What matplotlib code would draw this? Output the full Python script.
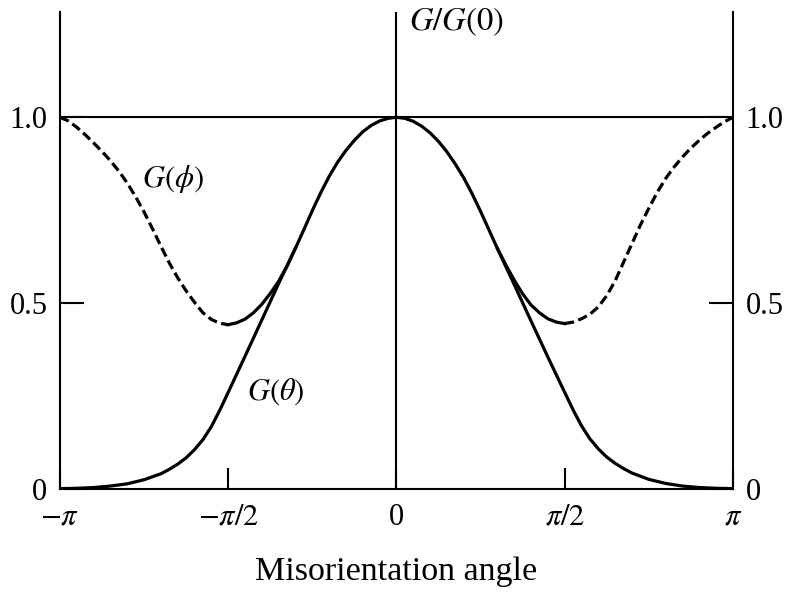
import matplotlib
matplotlib.use("Agg")
import matplotlib.pyplot as plt
import numpy as np

plt.rcParams["font.family"] = "Liberation Serif"
plt.rcParams["mathtext.fontset"] = "stix"

# misorientation angle, in units of pi
theta_frac = [-1.0, -0.95, -0.9, -0.85, -0.8, -0.75, -0.7, -0.675, -0.65, -0.625,
              -0.6, -0.575, -0.55, -0.525, -0.5, -0.45, -0.4, -0.35, -0.3, -0.275,
              -0.25, -0.225, -0.2, -0.175, -0.15, -0.125, -0.1, -0.075, -0.05, -0.025,
              0.0, 0.025, 0.05, 0.075, 0.1, 0.125, 0.15, 0.175, 0.2, 0.225,
              0.25, 0.275, 0.3, 0.35, 0.4, 0.45, 0.5, 0.525, 0.55, 0.575,
              0.6, 0.625, 0.65, 0.675, 0.7, 0.75, 0.8, 0.85, 0.9, 0.95, 1.0]
g_theta = [0.001, 0.002, 0.004, 0.008, 0.014, 0.025, 0.041, 0.053, 0.067, 0.084,
           0.106, 0.133, 0.168, 0.212, 0.26, 0.357, 0.455, 0.553, 0.648, 0.698,
           0.749, 0.797, 0.841, 0.879, 0.911, 0.938, 0.961, 0.978, 0.99, 0.997,
           1.0, 0.997, 0.989, 0.976, 0.958, 0.935, 0.907, 0.874, 0.837, 0.794,
           0.747, 0.697, 0.647, 0.55, 0.452, 0.355, 0.26, 0.213, 0.17, 0.135,
           0.108, 0.086, 0.069, 0.055, 0.043, 0.026, 0.015, 0.008, 0.004, 0.002, 0.001]

# G(phi): dashed outer part
phi_dash_left = [-1.0, -0.975, -0.95, -0.925, -0.9, -0.875, -0.85, -0.825, -0.8, -0.775,
                 -0.75, -0.725, -0.7, -0.675, -0.65, -0.625, -0.6, -0.575, -0.55, -0.525, -0.5]
g_phi_dash_left = [1.0, 0.99, 0.973, 0.953, 0.931, 0.908, 0.883, 0.855, 0.823, 0.786,
                   0.745, 0.7, 0.653, 0.608, 0.568, 0.533, 0.502, 0.474, 0.456, 0.446, 0.442]
phi_dash_right = [0.5, 0.525, 0.55, 0.575, 0.6, 0.625, 0.65, 0.675, 0.7, 0.725,
                  0.75, 0.775, 0.8, 0.825, 0.85, 0.875, 0.9, 0.925, 0.95, 0.975, 1.0]
g_phi_dash_right = [0.445, 0.449, 0.458, 0.47, 0.49, 0.52, 0.56, 0.61, 0.66, 0.71,
                    0.755, 0.798, 0.835, 0.866, 0.893, 0.917, 0.938, 0.957, 0.973, 0.988, 1.0]

# G(phi): solid inner part, running into G(theta)
phi_solid_left = [-0.5, -0.475, -0.45, -0.425, -0.4, -0.375, -0.35, -0.325, -0.3]
g_phi_solid_left = [0.442, 0.447, 0.457, 0.474, 0.497, 0.526, 0.559, 0.6, 0.648]
phi_solid_right = [0.5, 0.475, 0.45, 0.425, 0.4, 0.375, 0.35, 0.325, 0.3]
g_phi_solid_right = [0.445, 0.449, 0.458, 0.474, 0.495, 0.525, 0.562, 0.603, 0.647]

xticks = [-np.pi, -np.pi / 2, 0, np.pi / 2, np.pi]
xtick_labels = [r"$-\pi$", r"$-\pi/2$", "0", r"$\pi/2$", r"$\pi$"]
yticks = [0, 0.5, 1.0]
ytick_labels = ["0", "0.5", "1.0"]

fig = plt.figure(figsize=(7.88, 5.96), dpi=100)
ax = fig.add_axes([0.0761, 0.1795, 0.854, 0.8003])

lw_axis = 1.5
lw_curve = 2.3
dashes = (0, (3.0, 1.4))

ax.plot(np.array(theta_frac) * np.pi, g_theta, color="black", lw=lw_curve)
ax.plot(np.array(phi_dash_left) * np.pi, g_phi_dash_left, color="black",
        lw=lw_curve, ls=dashes)
ax.plot(np.array(phi_dash_right) * np.pi, g_phi_dash_right, color="black",
        lw=lw_curve, ls=dashes)
ax.plot(np.array(phi_solid_left) * np.pi, g_phi_solid_left, color="black", lw=lw_curve)
ax.plot(np.array(phi_solid_right) * np.pi, g_phi_solid_right, color="black", lw=lw_curve)

ax.axvline(0, color="black", lw=lw_axis)
ax.axhline(1.0, color="black", lw=lw_axis)

ax.set_xlim(-np.pi, np.pi)
ax.set_ylim(0, 1.283)
ax.spines["top"].set_visible(False)
for side in ["left", "right", "bottom"]:
    ax.spines[side].set_linewidth(lw_axis)

ax.set_xticks(xticks)
ax.set_xticklabels(xtick_labels)
ax.set_yticks(yticks)
ax.set_yticklabels(ytick_labels)
ax.yaxis.set_ticks_position("both")
ax.tick_params(axis="y", direction="in", length=17, width=lw_axis,
               labelsize=22, pad=9, labelright=True)
ax.tick_params(axis="x", direction="in", length=15, width=lw_axis,
               labelsize=22, pad=10)

ax.text(0.12, 1.256, "$G/G(0)$", fontsize=23.5, ha="left", va="center")
ax.text(-2.09, 0.834, r"$G(\phi)$", fontsize=22, ha="center", va="center")
ax.text(-1.13, 0.261, r"$G(\theta)$", fontsize=22, ha="center", va="center")

ax.set_xlabel("Misorientation angle", fontsize=24.5, labelpad=18)

fig.savefig("out.png", dpi=100)
